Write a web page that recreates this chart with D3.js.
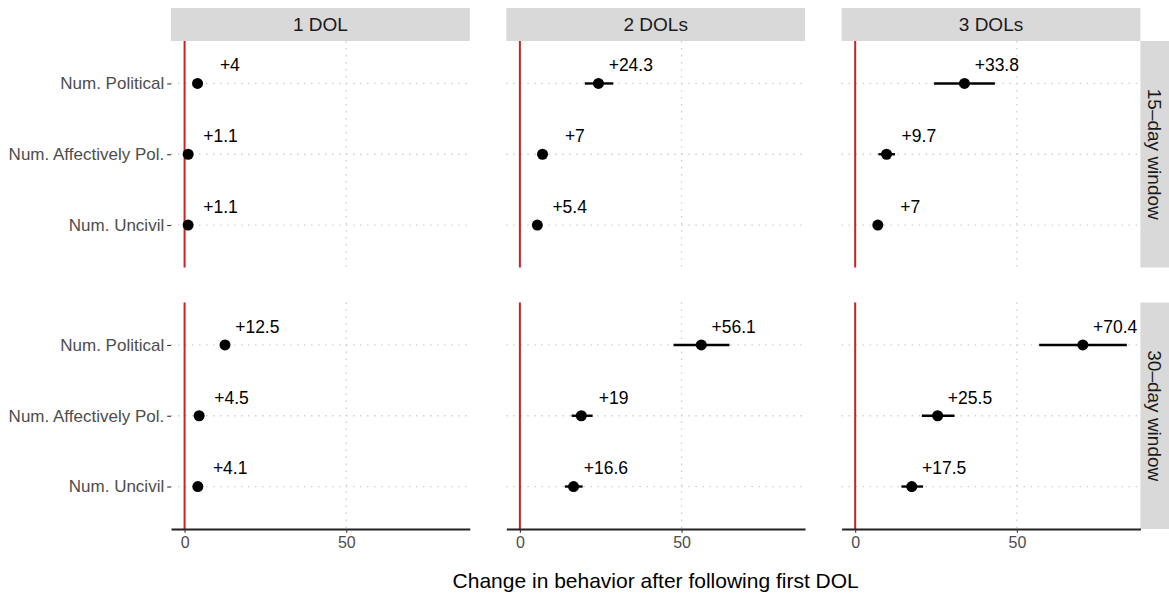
<!DOCTYPE html>
<html>
<head>
<meta charset="utf-8">
<script src="https://cdn.jsdelivr.net/npm/d3@7"></script>
<style>
  body { margin: 0; background: #fff; }
  text { font-family: "Liberation Sans", Arial, sans-serif; }
</style>
</head>
<body>
<svg id="chart" width="1169" height="593"></svg>
<script>
// categories
const measures = ["Num. Political", "Num. Affectively Pol.", "Num. Uncivil"];
const dolGroups = ["1 DOL", "2 DOLs", "3 DOLs"];
const windows = ["15–day window", "30–day window"];
const xTicks = [0, 50];

// estimates per DOL group, in the order of `measures`
const est15 = [[4.0, 1.1, 1.1], [24.3, 7.0, 5.4], [33.8, 9.7, 7.0]];
const low15 = [[2.8, 0.5, 0.5], [20.1, 5.8, 4.4], [24.4, 7.2, 5.9]];
const high15 = [[5.2, 1.7, 1.7], [28.9, 8.2, 6.4], [43.2, 12.3, 8.1]];

const est30 = [[12.5, 4.5, 4.1], [56.1, 19.0, 16.6], [70.4, 25.5, 17.5]];
const low30 = [[11.0, 3.4, 3.1], [47.5, 16.0, 13.9], [56.9, 20.6, 14.3]];
const high30 = [[14.0, 5.6, 5.1], [64.8, 22.5, 19.4], [84.0, 30.7, 21.0]];

const xDomain = [-4.2, 88.2];

// flatten into one table for drawing
const est = [est15, est30], low = [low15, low30], high = [high15, high30];
let rows = [];
windows.forEach((w, r) => {
    dolGroups.forEach((g, c) => {
        measures.forEach((m, k) => {
            rows.push({row: r, col: c, measure: m,
                est: est[r][c][k], lo: low[r][c][k], hi: high[r][c][k]});
        });
    });
});

const svg = d3.select("#chart");

// layout
const panelW = 298.8, panelH = 226.5;
const left0 = 171, colGap = 36.5;
const panelTops = [41, 302.5];
const stripTop = 8, stripH = 33;
const rightStripX = left0 + 3 * panelW + 2 * colGap;

const x = d3.scaleLinear().domain(xDomain).range([0, panelW]);
const y = d3.scalePoint().domain(measures).range([0, panelH]).padding(0.6);

const gridColor = "#cfcfcf";
const redColor = "#cc2222";

// column strips
dolGroups.forEach((g, c) => {
    let sx = left0 + c * (panelW + colGap);
    svg.append("rect")
        .attr("x", sx).attr("y", stripTop)
        .attr("width", panelW).attr("height", stripH)
        .attr("fill", "#d9d9d9");
    svg.append("text")
        .attr("x", sx + panelW / 2).attr("y", stripTop + stripH / 2)
        .attr("dy", "0.36em")
        .attr("text-anchor", "middle")
        .attr("font-size", 19)
        .attr("fill", "#1a1a1a")
        .text(g);
});

// row strips
windows.forEach((w, r) => {
    let top = panelTops[r];
    svg.append("rect")
        .attr("x", rightStripX).attr("y", top)
        .attr("width", 34).attr("height", panelH)
        .attr("fill", "#d9d9d9");
    svg.append("text")
        .attr("transform", "translate(" + (rightStripX + 14) + "," + (top + panelH / 2) + ") rotate(90)")
        .attr("dy", "0.36em")
        .attr("text-anchor", "middle")
        .attr("font-size", 19)
        .attr("fill", "#1a1a1a")
        .text(w);
});

windows.forEach((w, r) => {
    dolGroups.forEach((g, c) => {
        let panel = svg.append("g")
            .attr("transform", "translate(" + (left0 + c * (panelW + colGap)) + "," + panelTops[r] + ")");

        // dotted grid
        panel.selectAll("line.vgrid").data(xTicks).enter().append("line")
            .classed("vgrid", true)
            .attr("x1", d => x(d)).attr("x2", d => x(d))
            .attr("y1", 0).attr("y2", panelH)
            .attr("stroke", gridColor).attr("stroke-width", 1.3)
            .attr("stroke-dasharray", "1.5,5.5");
        panel.selectAll("line.hgrid").data(measures).enter().append("line")
            .classed("hgrid", true)
            .attr("x1", 0).attr("x2", panelW)
            .attr("y1", d => y(d)).attr("y2", d => y(d))
            .attr("stroke", gridColor).attr("stroke-width", 1.3)
            .attr("stroke-dasharray", "1.5,5.5");

        // reference line at zero
        panel.append("line")
            .attr("x1", x(0)).attr("x2", x(0))
            .attr("y1", 0).attr("y2", panelH)
            .attr("stroke", redColor).attr("stroke-width", 2);

        let data = rows.filter(d => d.row === r && d.col === c);

        panel.selectAll("line.ci").data(data).enter().append("line")
            .classed("ci", true)
            .attr("x1", d => x(d.lo)).attr("x2", d => x(d.hi))
            .attr("y1", d => y(d.measure)).attr("y2", d => y(d.measure))
            .attr("stroke", "#000").attr("stroke-width", 2.4);

        panel.selectAll("circle").data(data).enter().append("circle")
            .attr("cx", d => x(d.est)).attr("cy", d => y(d.measure))
            .attr("r", 5.5).attr("fill", "#000");

        panel.selectAll("text.value").data(data).enter().append("text")
            .classed("value", true)
            .attr("x", d => x(d.est + 10))
            .attr("y", d => y(d.measure) - 0.26 * y.step())
            .attr("dy", "0.36em")
            .attr("text-anchor", "middle")
            .attr("font-size", 17.5)
            .attr("fill", "#000")
            .text(d => "+" + d.est);

        if (c === 0) {
            let yAxis = panel.append("g")
                .call(d3.axisLeft(y).tickSize(3.8).tickSizeOuter(0).tickPadding(3));
            yAxis.select(".domain").remove();
            yAxis.selectAll("line").attr("stroke", "#333").attr("stroke-width", 1.1);
            yAxis.selectAll("text")
                .attr("font-size", 17)
                .attr("fill", "#4d4d4d")
                .attr("font-family", null);
        }

        if (r === 1) {
            let xAxis = panel.append("g")
                .attr("transform", "translate(0," + panelH + ")")
                .call(d3.axisBottom(x).tickValues(xTicks).tickSize(3.8).tickSizeOuter(0).tickPadding(4));
            xAxis.select(".domain").attr("stroke", "#222").attr("stroke-width", 1.8);
            xAxis.selectAll(".tick line").attr("stroke", "#333").attr("stroke-width", 1.1);
            xAxis.selectAll("text")
                .attr("font-size", 16)
                .attr("fill", "#4d4d4d")
                .attr("font-family", null);
        }
    });
});

// axis title
svg.append("text")
    .attr("x", left0 + (rightStripX - left0) / 2)
    .attr("y", 588)
    .attr("text-anchor", "middle")
    .attr("font-size", 21)
    .attr("fill", "#000")
    .text("Change in behavior after following first DOL");
</script>
</body>
</html>
